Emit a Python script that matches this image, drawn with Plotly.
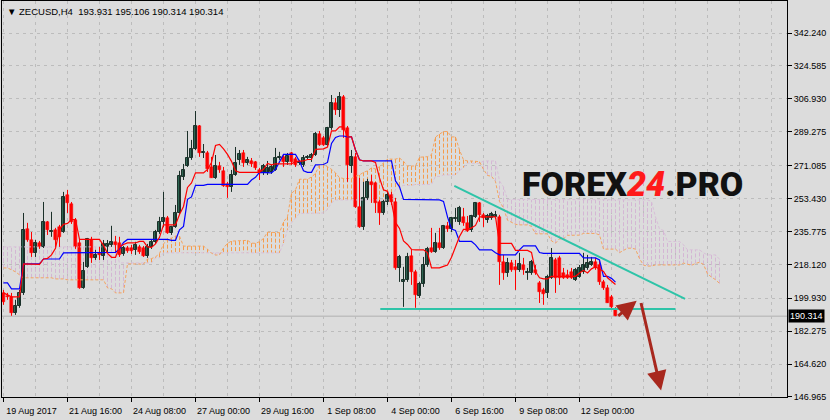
import plotly.graph_objects as go

# ---------------- data ----------------
OPEN = [
    202.8, 201.2, 200.7, 192.1, 195.8, 202.8, 237.1, 231.2, 224.3, 229.6,
    227.5, 240.9, 235.5, 236.6, 238.2, 235.5, 255.4, 250.6, 242.0, 229.6,
    205.5, 216.8, 231.2, 221.6, 224.3, 222.7, 227.5, 228.6, 230.2, 229.6,
    223.7, 226.9, 226.9, 225.9, 227.5, 226.9, 222.7, 227.5, 230.2, 235.5,
    240.9, 243.0, 235.0, 238.2, 245.7, 265.0, 270.9, 275.2, 280.1, 292.4,
    277.9, 277.9, 270.4, 264.5, 270.9, 268.3, 261.3, 259.7, 266.1, 274.2,
    277.9, 272.5, 273.6, 273.1, 268.8, 267.2, 267.2, 267.7, 268.8, 275.2,
    275.8, 273.1, 277.9, 274.7, 272.5, 271.5, 275.2, 275.2, 276.8, 288.1,
    286.0, 282.2, 291.3, 304.7, 301.0, 308.0, 291.3, 270.9, 275.8, 248.9,
    238.2, 253.8, 262.4, 261.8, 251.6, 245.7, 251.6, 255.4, 251.6, 216.2,
    208.7, 209.8, 222.7, 214.1, 201.2, 207.6, 217.8, 226.9, 224.8, 229.6,
    226.9, 238.8, 237.1, 242.5, 240.9, 243.6, 240.4, 236.6, 243.6, 251.1,
    244.7, 242.0, 243.0, 243.6, 243.6, 219.4, 213.5, 218.9, 216.8, 215.2,
    217.8, 213.5, 213.5, 215.2, 208.2, 204.4, 202.8, 210.9, 220.5, 221.6,
    213.5, 212.5, 214.1, 209.8, 211.4, 214.1, 216.2, 217.8, 219.4, 217.8,
    208.7, 205.5, 200.7, 193.931,
]
HIGH = [
    204.4, 202.8, 202.8, 199.1, 204.4, 245.7, 240.4, 235.5, 231.2, 230.7,
    251.6, 241.4, 246.3, 237.7, 239.3, 257.0, 258.1, 251.6, 243.0, 231.2,
    219.4, 232.3, 232.9, 225.9, 227.5, 231.2, 231.2, 238.8, 233.4, 232.9,
    228.0, 228.0, 228.6, 230.2, 228.6, 228.0, 229.1, 231.2, 236.6, 243.6,
    257.0, 244.1, 238.8, 250.0, 268.3, 272.0, 289.7, 284.9, 300.4, 292.9,
    282.7, 279.0, 275.8, 276.8, 273.1, 270.4, 262.4, 268.8, 281.1, 279.5,
    279.5, 275.8, 275.2, 273.6, 269.9, 272.0, 273.6, 271.5, 280.6, 278.5,
    276.8, 277.9, 278.5, 275.8, 274.2, 276.8, 276.8, 277.9, 289.2, 289.7,
    287.0, 291.9, 309.0, 307.4, 310.6, 309.0, 292.4, 279.5, 277.9, 264.5,
    262.4, 264.0, 266.1, 262.4, 252.7, 252.7, 257.0, 257.0, 253.8, 223.2,
    216.8, 224.3, 225.9, 215.2, 208.7, 222.1, 227.5, 237.7, 235.0, 237.7,
    239.3, 240.9, 243.6, 248.4, 249.5, 248.4, 244.1, 244.7, 251.6, 251.6,
    245.7, 245.2, 246.3, 246.8, 244.7, 223.2, 221.6, 220.5, 220.5, 224.3,
    221.6, 216.2, 220.5, 217.8, 209.2, 205.5, 212.5, 226.9, 221.6, 222.7,
    216.2, 215.2, 216.2, 216.2, 217.8, 224.3, 223.2, 222.1, 221.6, 220.5,
    209.8, 207.1, 201.7, 195.106,
]
LOW = [
    196.4, 199.1, 190.5, 191.0, 194.8, 201.7, 230.2, 222.1, 222.1, 226.4,
    226.9, 233.9, 232.9, 227.5, 227.5, 235.0, 245.7, 239.8, 226.4, 205.0,
    205.0, 216.2, 218.9, 220.5, 220.5, 220.5, 224.3, 227.5, 224.3, 222.1,
    222.7, 224.3, 223.7, 223.2, 223.7, 222.1, 221.6, 226.4, 229.1, 234.5,
    238.2, 234.5, 233.9, 237.7, 245.2, 263.4, 270.4, 274.2, 279.5, 275.8,
    275.2, 267.7, 264.5, 264.0, 267.2, 259.7, 253.8, 257.0, 265.6, 271.5,
    270.4, 271.5, 270.4, 268.8, 263.4, 266.1, 266.1, 266.7, 268.3, 274.2,
    270.4, 271.5, 271.5, 270.4, 271.5, 270.4, 274.2, 273.1, 276.3, 281.7,
    281.7, 281.7, 290.3, 298.3, 297.2, 286.0, 262.4, 267.2, 248.4, 237.7,
    236.6, 252.7, 251.1, 245.7, 239.3, 244.7, 250.0, 250.0, 215.2, 208.7,
    195.3, 208.7, 207.1, 194.8, 200.1, 206.0, 216.8, 224.3, 224.3, 225.9,
    226.4, 235.5, 235.5, 240.9, 239.3, 238.8, 235.5, 235.5, 243.0, 240.9,
    238.2, 240.4, 242.0, 242.5, 207.1, 209.8, 211.4, 214.1, 204.4, 214.1,
    212.5, 209.8, 212.5, 212.5, 197.4, 196.4, 200.1, 210.3, 202.8, 207.1,
    210.3, 210.3, 210.3, 209.2, 210.9, 213.0, 215.2, 217.3, 215.2, 207.1,
    204.4, 197.4, 194.2, 190.314,
]
CLOSE = [
    198.0, 200.7, 192.1, 195.8, 202.8, 236.6, 231.2, 224.3, 229.6, 227.5,
    240.9, 236.6, 236.1, 231.2, 232.9, 254.3, 251.1, 240.9, 227.5, 205.5,
    214.6, 231.8, 221.6, 223.2, 223.2, 229.1, 229.1, 230.2, 228.6, 223.2,
    226.9, 225.3, 225.3, 228.6, 224.8, 222.7, 227.5, 230.2, 235.5, 240.9,
    243.0, 235.0, 238.2, 245.7, 265.6, 268.8, 275.2, 280.1, 292.4, 277.9,
    278.5, 269.3, 264.5, 270.9, 268.8, 260.2, 259.7, 266.1, 272.5, 277.4,
    272.5, 274.2, 272.0, 269.9, 267.2, 270.9, 269.9, 270.4, 275.2, 275.8,
    273.1, 276.3, 273.1, 271.5, 273.1, 275.2, 275.8, 276.8, 288.1, 282.2,
    282.2, 291.3, 304.7, 301.0, 308.0, 290.3, 271.5, 275.8, 248.9, 238.2,
    253.8, 262.4, 260.7, 251.1, 245.7, 251.6, 255.4, 251.6, 216.2, 222.1,
    209.8, 222.1, 214.1, 201.7, 207.6, 217.8, 226.4, 224.8, 229.6, 226.9,
    238.8, 237.1, 243.0, 243.0, 248.4, 240.4, 236.1, 244.1, 251.1, 244.7,
    243.0, 244.1, 245.2, 244.7, 219.4, 213.5, 218.9, 215.2, 215.2, 218.4,
    215.2, 214.1, 219.4, 213.5, 203.3, 202.3, 211.4, 221.6, 210.9, 210.9,
    210.9, 210.9, 210.9, 215.2, 216.2, 217.8, 218.9, 219.4, 216.2, 208.7,
    205.5, 197.4, 195.3, 190.314,
]
# Ichimoku lines (red Tenkan-sen, blue Kijun-sen), one value per bar
TENKAN = [
    202.8, 201.7, 200.7, 200.7, 200.7, 218.4, 218.4, 218.4, 218.1, 218.1,
    221.0, 221.3, 223.2, 226.7, 236.9, 239.6, 240.1, 242.2, 242.2, 231.5,
    231.5, 231.5, 231.5, 231.5, 231.5, 228.3, 224.0, 221.9, 221.9, 227.5,
    228.8, 229.6, 229.6, 229.6, 230.4, 230.4, 227.5, 227.2, 229.1, 232.6,
    239.3, 239.3, 239.3, 239.3, 244.9, 249.2, 259.4, 261.8, 267.2, 267.2,
    267.2, 269.1, 272.8, 281.9, 282.5, 280.1, 277.1, 273.4, 268.3, 267.5,
    267.5, 267.5, 267.5, 267.5, 267.5, 269.1, 272.3, 271.5, 272.0, 272.0,
    272.0, 272.0, 272.0, 273.4, 273.4, 273.6, 274.4, 274.4, 279.8, 280.1,
    280.1, 281.1, 289.7, 289.7, 291.9, 291.9, 286.5, 286.5, 279.5, 274.2,
    273.6, 273.6, 273.6, 272.8, 264.5, 258.1, 257.3, 251.4, 240.6, 237.4,
    230.7, 228.8, 226.1, 225.9, 225.9, 225.9, 224.3, 216.2, 216.2, 216.2,
    217.0, 217.8, 221.9, 227.2, 233.1, 236.9, 236.9, 237.7, 239.0, 243.6,
    243.6, 243.6, 243.6, 243.6, 229.4, 229.4, 229.4, 229.4, 225.6, 225.6,
    225.6, 225.6, 224.5, 214.3, 210.9, 210.3, 210.3, 211.7, 211.7, 211.7,
    211.7, 211.7, 211.7, 211.7, 213.5, 214.9, 213.5, 215.7, 216.8, 215.7,
    214.3, 210.9, 209.2, 207.3,
]
KIJUN = [
    208.2, 208.2, 205.0, 205.0, 205.0, 218.4, 218.4, 218.4, 218.4, 218.4,
    221.0, 221.0, 221.0, 221.0, 221.0, 224.3, 224.3, 224.3, 224.3, 224.3,
    224.3, 224.3, 224.3, 224.3, 224.3, 224.3, 224.3, 224.3, 224.5, 226.4,
    229.9, 231.5, 231.5, 231.5, 231.5, 231.5, 231.5, 231.5, 231.5, 231.5,
    231.5, 231.5, 231.0, 231.0, 236.6, 238.5, 253.0, 254.3, 260.5, 260.5,
    260.5, 261.0, 261.0, 261.0, 261.0, 261.0, 261.0, 261.0, 261.0, 261.0,
    261.0, 261.0, 263.4, 264.8, 267.5, 267.5, 267.5, 267.2, 269.1, 272.8,
    277.1, 277.1, 277.1, 277.1, 273.4, 268.3, 267.5, 267.5, 271.5, 271.7,
    271.7, 272.8, 283.0, 286.2, 287.0, 287.0, 286.5, 286.5, 279.5, 274.2,
    273.6, 273.6, 273.6, 273.6, 273.6, 273.6, 273.6, 273.6, 262.9, 259.7,
    253.0, 253.0, 253.0, 252.7, 252.7, 252.7, 252.7, 252.7, 252.7, 252.7,
    251.9, 243.6, 237.1, 236.3, 230.4, 230.4, 230.4, 230.4, 228.6, 225.9,
    225.9, 225.9, 225.9, 224.3, 223.2, 223.2, 223.2, 223.2, 223.2, 225.9,
    228.0, 228.0, 228.0, 228.0, 224.5, 224.0, 224.0, 224.0, 224.0, 224.0,
    224.0, 224.0, 224.0, 224.0, 224.0, 221.6, 221.6, 221.6, 221.6, 220.5,
    211.7, 211.7, 210.6, 208.6,
]
# Cloud: Senkou span A (sandy brown) and span B (thistle), 26 bars ahead
SPAN_A = [
    216.2, 216.2, 215.2, 214.1, 212.5, 210.9, 210.9, 210.9, 210.9, 210.9,
    210.9, 210.9, 210.9, 210.3, 210.3, 210.3, 209.8, 209.8, 209.8, 209.8,
    209.8, 209.8, 209.8, 209.8, 209.8, 209.8, 205.5, 205.0, 202.8, 202.8,
    202.8, 218.4, 218.4, 218.4, 218.2, 218.2, 221.0, 221.2, 222.1, 223.9,
    229.0, 231.9, 232.2, 233.3, 233.3, 227.9, 227.9, 227.9, 227.9, 227.9,
    227.9, 226.3, 224.1, 223.1, 223.2, 226.9, 229.4, 230.6, 230.6, 230.6,
    231.0, 231.0, 229.5, 229.4, 230.3, 232.0, 235.4, 235.4, 235.1, 235.1,
    240.8, 243.8, 256.2, 258.1, 263.8, 263.8, 263.8, 265.0, 266.9, 271.5,
    271.7, 270.5, 269.1, 267.2, 264.6, 264.2, 264.2, 264.2, 265.4, 266.1,
    267.5, 268.3, 269.9, 269.3, 270.5, 272.4, 274.6, 274.6, 274.6, 275.2,
    273.4, 270.9, 270.9, 270.9, 275.6, 275.9, 275.9, 277.0, 286.4, 288.0,
    289.4, 289.4, 286.5, 286.5, 279.5, 274.2, 273.6, 273.6, 273.6, 273.2,
    269.1, 265.8, 265.4, 262.5, 251.8, 248.5, 241.8, 240.9, 239.6, 239.3,
    239.3, 239.3, 238.5, 234.5, 234.5, 234.5, 234.5, 230.7, 229.5, 231.8,
    231.8, 233.7, 233.7, 234.1, 233.8, 234.7, 234.7, 234.7, 234.7, 233.9,
    226.3, 226.3, 226.3, 226.3, 224.4, 225.7, 226.8, 226.8, 226.3, 221.2,
    217.7, 217.2, 217.2, 217.8, 217.8, 217.8, 217.8, 217.8, 217.8, 217.8,
    218.8, 218.2, 217.6, 218.6, 219.2, 218.1, 213.0, 211.3, 209.9, 207.9,
]
SPAN_B = [
    227.5, 227.5, 227.5, 227.5, 227.5, 227.5, 227.5, 227.5, 227.5, 227.5,
    227.5, 227.5, 227.5, 227.5, 227.5, 227.5, 227.5, 227.5, 227.5, 227.5,
    227.5, 227.5, 227.5, 227.5, 227.5, 227.5, 227.5, 227.5, 227.5, 218.9,
    218.9, 218.9, 218.9, 218.9, 218.9, 218.9, 218.9, 218.9, 221.6, 221.6,
    224.3, 224.3, 224.3, 224.3, 224.3, 224.3, 224.3, 224.3, 224.3, 224.3,
    224.3, 224.3, 224.3, 224.3, 224.3, 224.3, 224.3, 224.3, 224.3, 224.3,
    224.3, 224.3, 224.3, 224.3, 224.3, 224.3, 224.3, 224.3, 224.3, 224.3,
    229.6, 236.6, 240.4, 243.0, 245.5, 245.5, 245.5, 245.5, 245.5, 245.5,
    245.7, 247.6, 251.1, 252.7, 252.7, 252.7, 252.7, 252.7, 252.7, 252.7,
    252.7, 252.7, 252.7, 252.7, 252.7, 252.7, 252.7, 252.7, 258.3, 259.7,
    260.5, 260.5, 260.5, 261.0, 261.0, 261.0, 261.0, 261.0, 265.3, 265.3,
    266.1, 266.1, 266.1, 266.1, 268.5, 269.9, 272.5, 272.5, 272.5, 272.3,
    273.6, 273.6, 273.6, 273.6, 262.9, 259.7, 253.0, 253.0, 253.0, 252.7,
    252.7, 252.7, 252.7, 252.7, 252.7, 252.7, 252.7, 252.7, 252.7, 252.7,
    252.7, 252.7, 252.7, 252.7, 252.7, 252.7, 252.7, 252.7, 252.7, 252.7,
    252.7, 252.7, 252.7, 252.7, 252.7, 252.7, 252.7, 252.7, 252.7, 252.7,
    252.7, 252.7, 251.9, 243.6, 237.1, 236.3, 230.4, 230.4, 230.4, 230.4,
    228.6, 225.9, 225.9, 225.9, 225.9, 224.3, 223.2, 223.2, 223.2, 220.9,
]

X_TICK_BARS = [0, 16, 32, 48, 64, 80, 96, 112, 128, 144]
X_TICK_LABELS = ["19 Aug 2017", "21 Aug 16:00", "24 Aug 08:00", "27 Aug 00:00",
                 "29 Aug 16:00", "1 Sep 08:00", "4 Sep 00:00", "6 Sep 16:00",
                 "9 Sep 08:00", "12 Sep 00:00"]
Y_TICKS = [342.240, 324.585, 306.930, 289.275, 271.085, 253.430,
           235.775, 218.120, 199.930, 182.275, 164.620, 146.965]
Y_TICK_LABELS = ["342.240", "324.585", "306.930", "289.275", "271.085", "253.430",
                 "235.775", "218.120", "199.930", "182.275", "164.620", "146.965"]
LAST_PRICE = 190.314
HEADER = "ZECUSD,H4\u00a0\u00a0193.931 195.106 190.314 190.314"

# hand-drawn analysis objects: (bar, price) end points
UPPER_TREND = [(112.7, 260.2), (170.4, 199.6)]
SUPPORT_TREND = [(94.2, 194.2), (168.0, 194.2)]
ARROW_UP = [(153.3, 189.8), (158.3, 198.6)]     # tail, head
ARROW_DOWN = [(159.3, 198.2), (164.4, 150.4)]   # tail, head

assert len(OPEN) == len(HIGH) == len(LOW) == len(CLOSE) == len(TENKAN) == len(KIJUN) == 154
assert len(SPAN_A) == len(SPAN_B) == 180

# ---------------- styling ----------------
BG = "#dcdcdc"
GRID = "#bcbcbc"
BULL_FILL = "#2e6652"
BULL_LINE = "#1b3029"
BEAR = "#ff0000"
SANDY = "#f4a460"
SANDY_HATCH = "#f59c4c"
THISTLE = "#d8bfd8"
THISTLE_HATCH = "#d4b6d4"
TREND = "#2ec4a8"
ARROW = "#a8281e"
FONT = "Liberation Sans, DejaVu Sans, sans-serif"

fig = go.Figure()

# cloud hatching
ha_x, ha_y, hb_x, hb_y = [], [], [], []
for j, (a, b) in enumerate(zip(SPAN_A, SPAN_B)):
    if a >= b:
        ha_x += [j, j, None]; ha_y += [a, b, None]
    else:
        hb_x += [j, j, None]; hb_y += [a, b, None]
fig.add_trace(go.Scatter(x=hb_x, y=hb_y, mode="lines", hoverinfo="skip",
                         line=dict(color=THISTLE_HATCH, width=1, dash="4px,2px")))
fig.add_trace(go.Scatter(x=ha_x, y=ha_y, mode="lines", hoverinfo="skip",
                         line=dict(color=SANDY_HATCH, width=1, dash="4px,2px")))
jx = list(range(len(SPAN_A)))
fig.add_trace(go.Scatter(x=jx, y=SPAN_B, mode="lines", hoverinfo="skip",
                         line=dict(color=THISTLE, width=1, dash="3px,2px")))
fig.add_trace(go.Scatter(x=jx, y=SPAN_A, mode="lines", hoverinfo="skip",
                         line=dict(color=SANDY, width=1, dash="3px,2px")))

# candles: wicks and bodies
n = len(CLOSE)
bx, by, rx, ry = [], [], [], []
ub_x, ub_base, ub_h, db_x, db_base, db_h = [], [], [], [], [], []
for i in range(n):
    o, h, l, c = OPEN[i], HIGH[i], LOW[i], CLOSE[i]
    body = max(abs(c - o), 0.35)
    if c >= o:
        bx += [i, i, None]; by += [l, h, None]
        ub_x.append(i); ub_base.append(min(o, c)); ub_h.append(body)
    else:
        rx += [i, i, None]; ry += [l, h, None]
        db_x.append(i); db_base.append(min(o, c)); db_h.append(body)
fig.add_trace(go.Scatter(x=bx, y=by, mode="lines", hoverinfo="skip",
                         line=dict(color=BULL_LINE, width=1)))
fig.add_trace(go.Scatter(x=rx, y=ry, mode="lines", hoverinfo="skip",
                         line=dict(color=BEAR, width=1)))
fig.add_trace(go.Bar(x=ub_x, y=ub_h, base=ub_base, width=0.75,
                     marker=dict(color=BULL_FILL, line=dict(color=BULL_LINE, width=1))))
fig.add_trace(go.Bar(x=db_x, y=db_h, base=db_base, width=0.75,
                     marker=dict(color=BEAR, line=dict(color=BEAR, width=0.5))))

# Tenkan / Kijun
ix = list(range(n))
fig.add_trace(go.Scatter(x=ix, y=KIJUN, mode="lines", hoverinfo="skip",
                         line=dict(color="#0000ff", width=1.2)))
fig.add_trace(go.Scatter(x=ix, y=TENKAN, mode="lines", hoverinfo="skip",
                         line=dict(color="#ff0000", width=1.2)))

# trend lines
for pts in (UPPER_TREND, SUPPORT_TREND):
    fig.add_trace(go.Scatter(x=[p[0] for p in pts], y=[p[1] for p in pts], mode="lines",
                             hoverinfo="skip", line=dict(color=TREND, width=2)))

shapes = [dict(type="line", xref="paper", x0=0, x1=1, yref="y",
               y0=LAST_PRICE, y1=LAST_PRICE, line=dict(color="#b0b0b0", width=1),
               layer="below")]

annotations = []
for tail, head in (ARROW_UP, ARROW_DOWN):
    annotations.append(dict(x=head[0], y=head[1], ax=tail[0], ay=tail[1],
                             xref="x", yref="y", axref="x", ayref="y", text="",
                             showarrow=True, arrowhead=2, arrowsize=1.3,
                             arrowwidth=3, arrowcolor=ARROW))
annotations.append(dict(xref="paper", yref="paper", x=0, y=1, xanchor="left", yanchor="top",
                        xshift=3, yshift=-3, showarrow=False,
                        text="\u25bc\u00a0" + HEADER,
                        font=dict(family=FONT, size=9.5, color="#000000")))
annotations.append(dict(xref="paper", yref="y", x=1, y=LAST_PRICE, xanchor="left",
                        yanchor="middle", xshift=1, showarrow=False, text="%.3f" % LAST_PRICE,
                        bgcolor="#000000", borderpad=1,
                        font=dict(family=FONT, size=9, color="#ffffff")))
annotations.append(dict(xref="paper", yref="paper", x=0.803, y=0.538,
                        xanchor="center", yanchor="middle", showarrow=False,
                        text="FOREX<span style='color:#ff1a1a'><i>24</i></span>.PRO",
                        font=dict(family="Roboto Black, Roboto, Liberation Sans", size=34,
                                  color="#111111", weight=900)))

fig.update_layout(
    width=830, height=420,
    margin=dict(l=2, r=43, t=1, b=23),
    paper_bgcolor=BG, plot_bgcolor=BG,
    showlegend=False, barmode="overlay", bargap=0,
    shapes=shapes, annotations=annotations,
    xaxis=dict(range=[-0.375, 195.875], showline=True, mirror=True, linecolor="#000000",
               linewidth=1, zeroline=False,
               tickmode="array", tickvals=X_TICK_BARS, ticktext=X_TICK_LABELS,
               ticks="outside", ticklen=4, tickcolor="#000000",
               ticklabelshift=28, ticklabelstandoff=1,
               tickfont=dict(family=FONT, size=9, color="#000000"),
               showgrid=True, gridcolor=GRID, griddash="3px,4px", gridwidth=1,
               minor=dict(tickmode="linear", tick0=0, dtick=8, showgrid=True,
                          gridcolor=GRID, griddash="3px,4px", ticks="")),
    yaxis=dict(side="right", range=[146.93, 359.45], showline=True, mirror=True,
               linecolor="#000000", linewidth=1, zeroline=False,
               tickmode="array", tickvals=Y_TICKS, ticktext=Y_TICK_LABELS,
               ticks="outside", ticklen=4, tickcolor="#000000",
               tickfont=dict(family=FONT, size=9, color="#000000"),
               showgrid=True, gridcolor=GRID, griddash="3px,4px", gridwidth=1),
)

fig.write_html("out.html", config={"displayModeBar": False},
               post_script="document.body.style.margin='0';document.body.style.padding='0';")
